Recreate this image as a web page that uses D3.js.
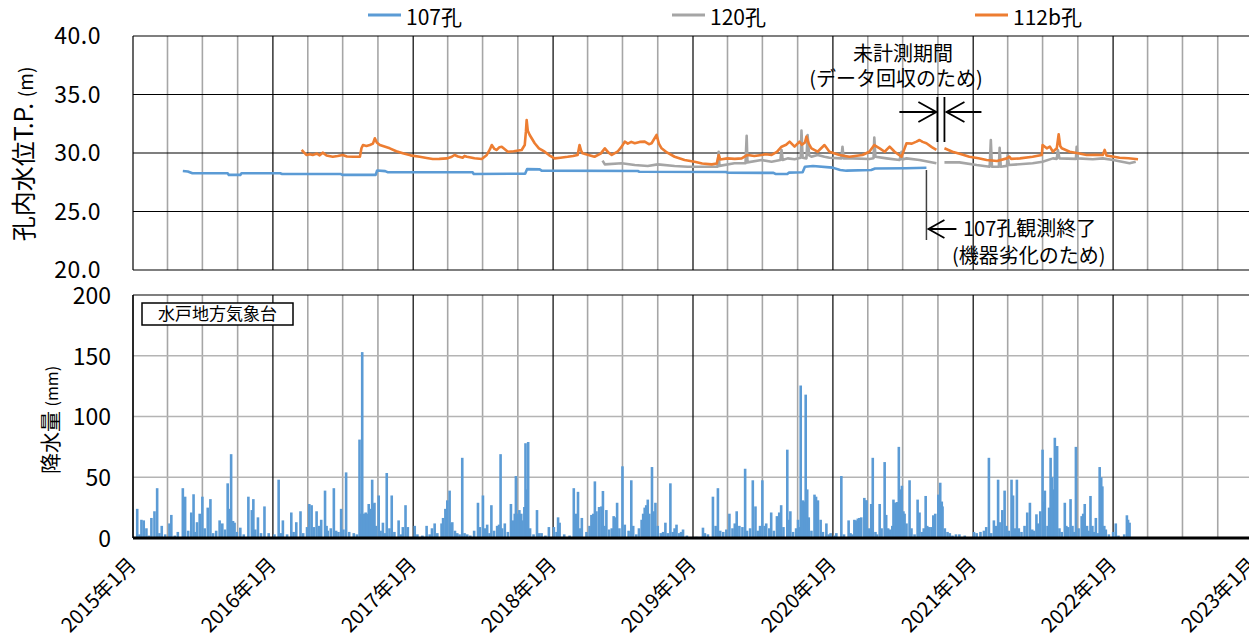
<!DOCTYPE html>
<html>
<head>
<meta charset="utf-8">
<script src="https://cdn.jsdelivr.net/npm/d3@7"></script>
<style>
  body { margin: 0; background: #fff; }
  svg { display: block; }
  text { font-family: "Noto Sans CJK JP", sans-serif; fill: #000; }
</style>
</head>
<body>
<svg id="chart" width="1249" height="640"></svg>
<script>
// ---- water level (T.P. m) per borehole; null marks a gap in the record ----
const hole107 = [
  ["2015-05-11",28.46],["2015-05-24",28.42],["2015-06-05",28.27],["2015-09-05",28.27],["2015-09-08",28.13],
  ["2015-10-08",28.13],["2015-10-11",28.27],["2016-01-20",28.27],["2016-01-25",28.21],["2016-06-25",28.21],
  ["2016-06-30",28.13],["2016-09-25",28.13],["2016-09-29",28.50],["2016-10-20",28.45],["2016-10-26",28.36],
  ["2017-06-05",28.36],["2017-06-08",28.21],["2017-10-20",28.23],["2017-10-25",28.62],["2017-11-27",28.60],
  ["2017-12-02",28.49],["2018-08-10",28.46],["2018-08-14",28.40],["2019-03-28",28.38],["2019-04-01",28.32],
  ["2019-07-30",28.30],["2019-08-04",28.21],["2019-09-04",28.21],["2019-09-08",28.32],["2019-10-14",28.35],
  ["2019-10-20",28.83],["2019-11-10",28.89],["2019-12-31",28.75],["2020-01-20",28.55],["2020-02-05",28.49],
  ["2020-04-10",28.55],["2020-04-20",28.68],["2020-07-10",28.70],["2020-09-01",28.74]
];

const hole120 = [
  ["2018-05-10",29.35],["2018-05-16",29.03],["2018-06-29",29.12],["2018-08-02",28.97],["2018-09-05",28.89],
  ["2018-10-01",29.03],["2018-11-14",28.89],["2018-12-18",28.83],["2019-02-08",28.83],["2019-03-06",28.83],
  ["2019-03-09",30.11],["2019-03-11",28.90],["2019-04-19",29.12],["2019-05-18",29.12],["2019-05-21",31.48],
  ["2019-05-23",29.20],["2019-06-29",29.40],["2019-07-25",29.26],["2019-08-17",29.40],["2019-08-20",30.26],
  ["2019-08-23",29.40],["2019-09-05",29.54],["2019-09-23",29.47],["2019-10-09",29.60],["2019-10-11",31.91],
  ["2019-10-14",29.60],["2019-10-24",29.54],["2019-10-27",31.54],["2019-10-31",29.80],["2019-11-06",29.68],
  ["2019-11-22",29.83],["2019-12-10",29.68],["2019-12-23",29.60],["2020-01-23",29.54],["2020-01-26",30.54],
  ["2020-01-29",29.54],["2020-02-21",29.54],["2020-04-05",29.49],["2020-04-16",29.55],["2020-04-18",31.31],
  ["2020-04-21",29.68],["2020-05-20",29.54],["2020-06-23",29.40],["2020-06-28",30.11],["2020-06-30",29.45],
  ["2020-07-11",29.54],["2020-08-14",29.40],["2020-09-27",29.12],
  ["2020-10-05",null],
  ["2020-10-18",29.20],["2020-11-26",29.20],["2021-01-10",28.97],["2021-02-13",28.83],["2021-02-16",31.11],
  ["2021-02-19",28.83],["2021-03-09",28.83],["2021-03-11",30.45],["2021-03-14",28.83],["2021-03-30",28.90],
  ["2021-04-01",29.83],["2021-04-04",28.97],["2021-06-05",29.12],["2021-07-01",29.26],["2021-07-28",29.54],
  ["2021-08-07",29.50],["2021-08-10",30.26],["2021-08-14",29.54],["2021-09-26",29.50],["2021-09-28",30.54],
  ["2021-10-01",29.54],["2021-11-09",29.47],["2021-12-05",29.54],["2022-01-01",29.40],["2022-02-13",29.12],
  ["2022-03-01",29.26]
];

const hole112b = [
  ["2016-03-16",30.26],["2016-03-22",30.05],["2016-03-29",29.83],["2016-04-06",29.90],["2016-04-14",29.83],
  ["2016-04-25",29.95],["2016-05-02",29.80],["2016-05-10",30.03],["2016-05-20",29.78],["2016-06-05",29.68],
  ["2016-06-18",29.75],["2016-07-01",29.83],["2016-07-12",29.70],["2016-07-28",29.68],["2016-08-15",29.68],
  ["2016-08-19",30.40],["2016-08-23",30.68],["2016-09-01",30.60],["2016-09-10",30.68],["2016-09-18",30.80],
  ["2016-09-23",31.26],["2016-09-28",30.90],["2016-10-06",30.68],["2016-10-18",30.55],["2016-11-01",30.40],
  ["2016-11-18",30.15],["2016-12-05",29.97],["2016-12-25",29.80],["2017-01-18",29.68],["2017-02-05",29.58],
  ["2017-02-21",29.49],["2017-03-10",29.50],["2017-03-30",29.54],["2017-04-10",29.65],["2017-04-19",29.83],
  ["2017-04-28",29.70],["2017-05-10",29.60],["2017-05-15",29.75],["2017-05-21",29.68],["2017-06-10",29.55],
  ["2017-06-29",29.49],["2017-07-12",29.83],["2017-07-20",30.30],["2017-07-25",30.68],["2017-08-01",30.35],
  ["2017-08-07",30.26],["2017-08-14",30.50],["2017-08-20",30.54],["2017-09-05",30.11],["2017-09-20",30.15],
  ["2017-10-11",30.26],["2017-10-19",30.68],["2017-10-22",31.80],["2017-10-24",32.82],["2017-10-27",31.90],
  ["2017-11-01",31.54],["2017-11-14",30.83],["2017-11-25",30.40],["2017-12-10",30.11],["2017-12-22",29.80],
  ["2018-01-05",29.54],["2018-01-20",29.60],["2018-02-08",29.68],["2018-02-22",29.75],["2018-03-06",29.83],
  ["2018-03-11",30.68],["2018-03-15",30.20],["2018-03-19",29.97],["2018-04-01",29.85],["2018-04-19",29.68],
  ["2018-05-05",29.95],["2018-05-16",30.40],["2018-05-25",30.05],["2018-06-03",29.83],["2018-06-18",30.11],
  ["2018-06-29",30.54],["2018-07-07",30.97],["2018-07-15",30.80],["2018-07-24",30.95],["2018-08-02",30.83],
  ["2018-08-15",30.95],["2018-08-28",30.97],["2018-09-08",30.75],["2018-09-15",30.83],["2018-09-28",31.54],
  ["2018-10-04",30.80],["2018-10-11",30.40],["2018-10-25",30.05],["2018-11-14",29.68],["2018-12-10",29.40],
  ["2019-01-05",29.26],["2019-01-25",29.10],["2019-02-19",29.03],["2019-03-04",29.10],["2019-03-09",29.83],
  ["2019-03-13",29.45],["2019-04-01",29.54],["2019-04-20",29.50],["2019-05-08",29.54],["2019-05-23",29.83],
  ["2019-06-10",29.75],["2019-06-29",29.83],["2019-07-10",29.90],["2019-07-25",29.83],["2019-08-08",30.10],
  ["2019-08-20",30.54],["2019-09-01",30.70],["2019-09-10",30.97],["2019-09-23",30.54],["2019-10-06",30.97],
  ["2019-10-12",30.70],["2019-10-20",30.90],["2019-10-24",31.40],["2019-10-30",30.80],["2019-11-06",30.40],
  ["2019-11-22",30.11],["2019-12-10",30.68],["2019-12-23",30.11],["2020-01-18",29.83],["2020-02-13",29.68],
  ["2020-03-18",29.83],["2020-04-05",30.11],["2020-04-18",30.68],["2020-05-02",30.40],["2020-05-15",30.11],
  ["2020-05-28",30.54],["2020-06-10",30.11],["2020-06-28",29.68],["2020-07-04",30.20],["2020-07-11",30.83],
  ["2020-07-25",30.80],["2020-08-06",30.97],["2020-08-14",31.11],["2020-08-22",30.95],["2020-09-01",30.83],
  ["2020-09-15",30.50],["2020-09-27",30.26],
  ["2020-10-05",null],
  ["2020-10-18",30.40],["2020-11-08",30.11],["2020-12-01",29.90],["2020-12-22",29.68],["2021-01-15",29.55],
  ["2021-02-05",29.40],["2021-03-04",29.32],["2021-03-30",29.54],["2021-04-05",29.70],["2021-04-10",29.50],
  ["2021-05-03",29.54],["2021-06-05",29.68],["2021-06-29",29.83],["2021-07-01",30.68],["2021-07-12",30.40],
  ["2021-07-20",30.54],["2021-07-28",30.11],["2021-08-07",30.40],["2021-08-12",31.60],["2021-08-16",30.60],
  ["2021-08-20",30.40],["2021-09-10",30.11],["2021-10-05",29.95],["2021-10-24",29.83],["2021-11-15",29.85],
  ["2021-12-05",29.83],["2021-12-10",30.26],["2021-12-15",29.78],["2022-01-18",29.60],["2022-02-10",29.55],
  ["2022-03-07",29.46]
];

// ---- daily rainfall at Mito (mm): [day of year, mm] per year ----
const rain2015 = [[12,24],[18,3],[23,15],[29,14.5],[36,8],[42,2],[49,16.5],[57,22],[64,41],[70,4],[76,10],[85,3],
  [96,12],[101,19],[110,2],[118,5],[131,41],[137,34],[145,6],[153,21],[159,36],[163,5],[168,13],[175,20],[182,34],
  [188,8],[196,25],[203,32],[210,4],[218,6],[227,14.5],[234,12],[241,7],[248,45],[252,24],[257,69],[262,14],
  [266,12.6],[272,5],[281,8.5],[290,3],[302,34],[311,23],[315,32],[320,7],[327,17],[335,4],[344,26],[355,4]];
const rain2016 = [[5,3],[16,48],[22,4],[27,14.5],[38,3],[49,21],[55,5],[62,13],[73,22],[80,4],[90,9],[96,28],
  [102,27],[108,9],[115,22],[122,10],[127,15],[137,39],[141,10],[144,6],[152,8],[160,41],[166,6],[172,5],[179,24],
  [185,7],[192,54],[200,5],[212,4],[220,3],[227,81],[230,20],[234,153],[238,20],[243,21],[247,20],[251,28],
  [255,24],[260,48],[263,28],[266,29],[270,10],[277,35],[282,6],[288,12.6],[293,4],[298,53.5],[305,8],[311,35],
  [318,5],[329,14.5],[335,3],[340,9],[347,27],[353,9]];
const rain2017 = [[5,10],[12,3],[25,2],[36,10],[44,3],[50,8],[57,12],[64,4],[75,12],[79,16.5],[85,24],[90,31],
  [96,39],[100,12],[103,13],[110,6],[116,4],[122,3],[129,66],[135,4],[142,3],[150,2],[160,6],[170,29],[175,9],
  [183,35],[188,8],[194,11],[200,4],[205,27],[212,6],[220,10],[225,11],[229,69],[233,8],[240,12],[248,5],[256,28],
  [262,14.5],[266,20],[269,51],[273,20],[278,23],[283,20],[286,14.5],[291,25.5],[294,78],[297,40],[301,79],
  [306,8],[315,3],[324,23],[330,4],[336,4],[346,2],[355,9]];
const rain2018 = [[3,9],[10,5],[14,17],[18,12.6],[30,3],[44,2],[55,41],[60,20],[66,38],[72,8],[76,16.5],[88,5],
  [96,10],[101,19],[106,20],[110,46.6],[114,22],[121,25.5],[127,26],[131,38.7],[135,10],[140,23],[147,7],[154,8],
  [159,18],[164,17],[168,29],[174,8],[182,59],[188,11],[198,6],[205,47.5],[210,10],[218,3],[225,8],[232,15],
  [236,20],[240,25],[244,27],[248,31.6],[252,20],[259,58.4],[263,22],[268,29],[274,10],[282,4],[288,5],
  [294,12.6],[300,4],[307,45],[313,5],[318,8],[323,11],[330,4],[335,5],[340,7],[350,2]];
const rain2019 = [[10,1],[27,8.5],[32,4],[40,3],[53,34],[60,10],[66,41],[72,6],[80,5],[88,7],[96,20],[104,8],
  [110,12],[115,22],[122,10],[130,9],[137,57],[142,6],[150,8],[157,47.5],[164,26],[170,6],[176,10],[182,47.5],
  [188,10],[192,12],[200,8],[205,21],[212,6],[220,18],[226,21],[231,27],[237,9],[247,72.7],[251,15],[255,22],
  [262,5],[270,8],[275,15],[279,9],[282,125.5],[285,26],[288,31],[292,30],[295,118],[299,40],[303,17],[310,6],
  [318,35.7],[322,34],[327,31],[334,15],[340,5],[349,12],[355,3],[360,4]];
const rain2020 = [[5,2],[10,4],[23,51],[30,3],[42,14.5],[47,4],[52,3],[57,15],[62,14.5],[66,16],[70,16.5],
  [75,17],[83,33],[86,31],[89,31],[95,8],[101,28],[105,66],[112,5],[116,3],[123,28],[128,8],[136,62.5],[140,19],
  [145,8],[150,7],[156,10],[159,31.6],[164,29],[168,29.6],[173,75],[177,40],[181,43],[185,22],[188,20],[193,12],
  [201,47.5],[206,8],[214,3],[222,31.6],[227,21],[233,5],[238,8],[243,34.6],[247,10],[252,9],[258,9],[263,18.7],
  [268,20],[276,35.7],[281,45.5],[285,30],[287,26],[293,8],[300,5],[306,4],[313,2],[322,3],[331,3],[345,2]];
const rain2021 = [[3,5],[10,4],[20,5],[29,6],[35,9],[42,66],[48,4],[55,14.5],[60,10],[66,48],[70,13],[77,23],
  [83,39],[88,10],[94,6],[101,48],[105,35],[110,8],[115,48],[120,8],[127,5],[135,10],[142,21],[149,29],[155,7],
  [160,6],[166,19.5],[170,12],[176,22],[182,72.7],[185,30],[188,39],[195,10],[199,25],[203,66],[207,50],[211,40],
  [214,82.5],[217,50],[220,75.7],[226,8],[232,5],[240,29],[244,10],[249,9],[255,32],[260,10],[265,5],[269,75],
  [276,8],[284,18],[288,20],[292,28],[298,10],[302,6],[307,34.6],[312,10],[316,5],[321,16.5],[326,4],[331,58.4],
  [335,50],[338,42.5],[343,10],[347,7],[355,3]];
const rain2022 = [[1,5],[8,12],[15,2],[30,3],[37,18.7],[40,15],[44,12.6]];

const rainByYear = [[2015,rain2015],[2016,rain2016],[2017,rain2017],[2018,rain2018],
                    [2019,rain2019],[2020,rain2020],[2021,rain2021],[2022,rain2022]];

const levelTicks = [20, 25, 30, 35, 40];
const rainTicks = [0, 50, 100, 150, 200];
const yearTicks = [2015, 2016, 2017, 2018, 2019, 2020, 2021, 2022, 2023];

const series = [
  { name: "107孔",  data: hole107,  color: "#5B9BD5" },
  { name: "120孔",  data: hole120,  color: "#A5A5A5" },
  { name: "112b孔", data: hole112b, color: "#ED7D31" }
];

// observation events for annotations
const gapStart = "2020-09-27", gapEnd = "2020-10-18", end107 = "2020-09-01";

// ---------------- drawing ----------------
const parse = d3.timeParse("%Y-%m-%d");
const svg = d3.select("#chart");

const x = d3.scaleTime().domain([new Date(2015,0,1), new Date(2023,0,1)]).range([133, 1253]);
const yL = d3.scaleLinear().domain([20, 40]).range([270, 36]);
const yR = d3.scaleLinear().domain([0, 200]).range([538, 295]);

const quarters = d3.timeMonth.every(3).range(new Date(2015,0,1), new Date(2023,0,2));

function verticalGrid(g, y0, y1) {
  g.selectAll("line").data(quarters.filter(d => d.getMonth() !== 0)).join("line")
    .attr("x1", d => x(d)).attr("x2", d => x(d)).attr("y1", y0).attr("y2", y1)
    .attr("stroke", "#a6a6a6").attr("stroke-width", 1.6);
}
function yearGrid(g, y0, y1) {
  g.selectAll("line").data(quarters.filter(d => d.getMonth() === 0)).join("line")
    .attr("x1", d => x(d)).attr("x2", d => x(d)).attr("y1", y0).attr("y2", y1)
    .attr("stroke", "#000").attr("stroke-width", 1.2);
}

// ---- upper panel: water level ----
const levelPanel = svg.append("g");
verticalGrid(levelPanel.append("g"), yL(40), yL(20));
levelPanel.append("g").selectAll("line").data(levelTicks).join("line")
  .attr("x1", 133).attr("x2", 1253).attr("y1", d => yL(d)).attr("y2", d => yL(d))
  .attr("stroke", "#000").attr("stroke-width", 1.2);
yearGrid(levelPanel.append("g"), yL(40), yL(20));

const line = d3.line()
  .defined(d => d[1] != null)
  .x(d => x(parse(d[0]))).y(d => yL(d[1]));

levelPanel.append("g").selectAll("path").data(series).join("path")
  .attr("d", s => line(s.data)).attr("fill", "none")
  .attr("stroke", s => s.color).attr("stroke-width", 2.6).attr("stroke-linejoin", "round");

const axL = levelPanel.append("g").attr("transform", "translate(101,0)")
  .call(d3.axisLeft(yL).tickValues(levelTicks).tickFormat(d3.format(".1f")).tickSize(0).tickPadding(0));
axL.select(".domain").remove();
axL.selectAll("text").attr("font-size", 23).attr("font-family", '"Noto Sans CJK JP", sans-serif')
  .attr("dy", "0.33em").attr("letter-spacing", 0.5);

svg.append("text").attr("transform", "translate(33,154) rotate(-90)")
  .attr("text-anchor", "middle").attr("font-size", 25)
  .text("孔内水位T.P.  ").append("tspan").attr("font-size", 19).text("(m)");

// legend
const leg = svg.append("g");
const legX = [368, 672, 975];
series.forEach((s, i) => {
  leg.append("line").attr("x1", legX[i]).attr("x2", legX[i] + 33).attr("y1", 15).attr("y2", 15)
    .attr("stroke", s.color).attr("stroke-width", 2.8);
  leg.append("text").attr("x", legX[i] + 38).attr("y", 25).attr("font-size", 21).text(s.name);
});

// annotation: missing-record period
const ann = svg.append("g").attr("stroke", "#000").attr("fill", "none").attr("stroke-width", 1.8);
const gx0 = x(parse(gapStart)), gx1 = x(parse(gapEnd));
ann.append("line").attr("x1", gx0 + 1).attr("x2", gx0 + 1).attr("y1", 97).attr("y2", 142);
ann.append("line").attr("x1", gx1).attr("x2", gx1).attr("y1", 97).attr("y2", 142);
ann.append("path").attr("d", `M${gx0 - 37},112H${gx0}M${gx0 - 18},102L${gx0},112L${gx0 - 18},122`);
ann.append("path").attr("d", `M${gx1 + 37},112H${gx1 + 2}M${gx1 + 20},102L${gx1 + 2},112L${gx1 + 20},122`);
svg.append("text").attr("x", 903).attr("y", 61).attr("text-anchor", "middle").attr("font-size", 20).text("未計測期間");
svg.append("text").attr("x", 896).attr("y", 86).attr("text-anchor", "middle").attr("font-size", 20).text("(データ回収のため)");

// annotation: end of 107 record
const ex = x(parse(end107));
svg.append("line").attr("x1", ex).attr("x2", ex).attr("y1", 170).attr("y2", 240)
  .attr("stroke", "#404040").attr("stroke-width", 1.5);
svg.append("path").attr("d", `M${ex + 30},229H${ex + 2}M${ex + 18},220L${ex + 2},229L${ex + 18},238`)
  .attr("stroke", "#000").attr("stroke-width", 1.8).attr("fill", "none");
svg.append("text").attr("x", 963).attr("y", 236).attr("font-size", 20).text("107孔観測終了");
svg.append("text").attr("x", 952).attr("y", 263).attr("font-size", 20).text("(機器劣化のため)");

// ---- lower panel: rainfall ----
const rainPanel = svg.append("g");
verticalGrid(rainPanel.append("g"), yR(200), yR(0));
rainPanel.append("g").selectAll("line").data(rainTicks.slice(1, -1)).join("line")
  .attr("x1", 133).attr("x2", 1253).attr("y1", d => yR(d)).attr("y2", d => yR(d))
  .attr("stroke", "#b4b4b4").attr("stroke-width", 1.6);
rainPanel.append("line").attr("x1", 133).attr("x2", 1253).attr("y1", yR(200)).attr("y2", yR(200))
  .attr("stroke", "#000").attr("stroke-width", 1.2);
yearGrid(rainPanel.append("g"), yR(200), yR(0));

const rain = rainByYear.flatMap(([yr, arr]) =>
  arr.map(([doy, mm]) => ({ date: d3.timeDay.offset(new Date(yr, 0, 1), doy - 1), mm })));
rainPanel.append("g").selectAll("rect").data(rain).join("rect")
  .attr("x", d => x(d.date) - 1.3).attr("width", 2.6)
  .attr("y", d => yR(d.mm)).attr("height", d => yR(0) - yR(d.mm))
  .attr("fill", "#5B9BD5");

rainPanel.append("line").attr("x1", 133).attr("x2", 1253).attr("y1", yR(0)).attr("y2", yR(0))
  .attr("stroke", "#000").attr("stroke-width", 3);
rainPanel.append("line").attr("x1", 133).attr("x2", 133).attr("y1", yR(200)).attr("y2", yR(0))
  .attr("stroke", "#000").attr("stroke-width", 1.2);

const axR = rainPanel.append("g").attr("transform", "translate(111,0)")
  .call(d3.axisLeft(yR).tickValues(rainTicks).tickFormat(d3.format("d")).tickSize(0).tickPadding(0));
axR.select(".domain").remove();
axR.selectAll("text").attr("font-size", 23).attr("font-family", '"Noto Sans CJK JP", sans-serif').attr("dy", "0.36em");

svg.append("text").attr("transform", "translate(58,420) rotate(-90)")
  .attr("text-anchor", "middle").attr("font-size", 21)
  .text("降水量 ").append("tspan").attr("font-size", 16).text("(mm)");

// station label box
svg.append("rect").attr("x", 142).attr("y", 303).attr("width", 151).attr("height", 22)
  .attr("fill", "#fff").attr("stroke", "#000").attr("stroke-width", 1.5);
svg.append("text").attr("x", 217.5).attr("y", 320).attr("text-anchor", "middle").attr("font-size", 17).text("水戸地方気象台");

// date axis labels
const axX = svg.append("g").attr("transform", "translate(0,538)")
  .call(d3.axisBottom(x).tickValues(yearTicks.map(y => new Date(y, 0, 1)))
    .tickFormat(d => `${d.getFullYear()}年1月`).tickSize(0).tickPadding(0));
axX.select(".domain").remove();
axX.selectAll("text")
  .attr("font-size", 20).attr("font-family", '"Noto Sans CJK JP", sans-serif')
  .attr("text-anchor", "end").attr("dy", 0).attr("y", 0)
  .attr("transform", "translate(4,28) rotate(-45)");
</script>
</body>
</html>
